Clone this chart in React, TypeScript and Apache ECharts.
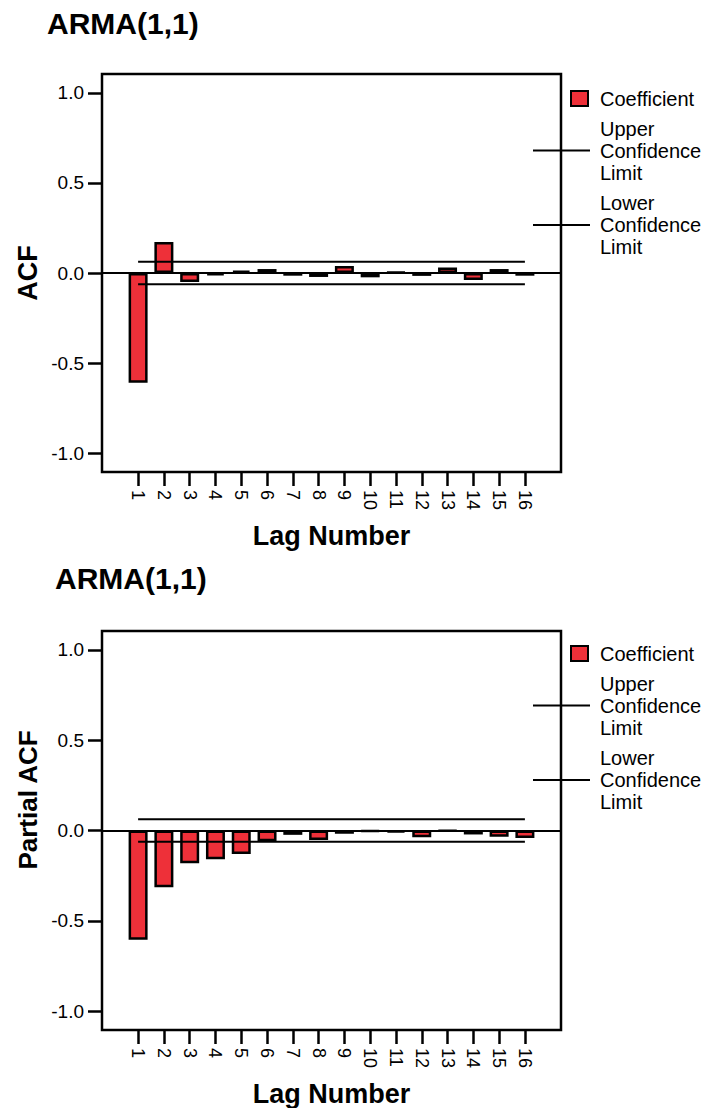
import React, { useEffect, useRef } from "react";
import * as echarts from "echarts";

// Lag numbers on the horizontal axis
const lags = [1, 2, 3, 4, 5, 6, 7, 8, 9, 10, 11, 12, 13, 14, 15, 16];

// Autocorrelation coefficients of the ARMA(1,1) residuals
const acfValues = [
  -0.61, 0.172, -0.05, -0.013, 0.013, 0.022, -0.015, -0.022,
  0.039, -0.024, 0.005, -0.016, 0.031, -0.039, 0.022, -0.015,
];

// Partial autocorrelation coefficients
const pacfValues = [
  -0.605, -0.315, -0.181, -0.159, -0.13, -0.059, -0.024, -0.053,
  -0.018, -0.005, -0.01, -0.037, -0.003, -0.022, -0.035, -0.042,
];

// Confidence limits (+/-)
const upperLimit = 0.062;
const lowerLimit = -0.062;

const yTickValues = [-1, -0.5, 0, 0.5, 1];
const chartTitles = ["ARMA(1,1)", "ARMA(1,1)"];
const yAxisNames = ["ACF", "Partial ACF"];
const xAxisName = "Lag Number";
const legendNames = ["Coefficient", "Upper\nConfidence\nLimit", "Lower\nConfidence\nLimit"];

const FONT = "'Liberation Sans', Arial, Helvetica, sans-serif";
const BAR_RED = "#EE3039";

const grids = [
  { left: 102, top: 74, width: 459, height: 398 },
  { left: 102, top: 631, width: 459, height: 399 },
];
const titlePos = [
  { x: 47, y: 23 },
  { x: 55, y: 578 },
];
const yNamePos = [
  { x: 28, y: 273, size: 27 },
  { x: 28, y: 800, size: 26 },
];
const legendOffsets = [0, 555];

function buildOption() {
  const seriesValues = [acfValues, pacfValues];

  const xAxes = grids.map((_, i) => ({
    type: "value",
    gridIndex: i,
    min: -0.4,
    max: 17.4,
    name: xAxisName,
    nameLocation: "middle",
    nameGap: 50,
    nameTextStyle: { fontFamily: FONT, fontSize: 27, fontWeight: "bold", color: "#000" },
    axisLine: { show: false, onZero: false },
    splitLine: { show: false },
    axisTick: {
      show: true,
      customValues: lags,
      length: 14,
      lineStyle: { color: "#000", width: 2.5 },
    },
    axisLabel: {
      customValues: lags,
      rotate: -90,
      margin: 18,
      fontFamily: FONT,
      fontSize: 18,
      color: "#000",
      formatter: (v: number) => String(v),
    },
  }));

  const yAxes = grids.map((_, i) => ({
    type: "value",
    gridIndex: i,
    min: -1.105,
    max: 1.105,
    axisLine: { show: false, onZero: false },
    splitLine: { show: false },
    axisTick: {
      show: true,
      customValues: yTickValues,
      length: 14,
      lineStyle: { color: "#000", width: 2.5 },
    },
    axisLabel: {
      customValues: yTickValues,
      margin: 18,
      fontFamily: FONT,
      fontSize: 19,
      color: "#000",
      formatter: (v: number) => v.toFixed(1),
    },
  }));

  const series: any[] = [];
  seriesValues.forEach((vals, i) => {
    series.push({
      name: "Coefficient",
      type: "bar",
      xAxisIndex: i,
      yAxisIndex: i,
      barWidth: 19,
      z: 2,
      itemStyle: { color: BAR_RED, borderColor: "#000", borderWidth: 2.5 },
      data: lags.map((lag, k) => [lag, vals[k]]),
    });
    series.push({
      name: "Upper Confidence Limit",
      type: "line",
      xAxisIndex: i,
      yAxisIndex: i,
      z: 3,
      symbol: "none",
      lineStyle: { color: "#000", width: 2 },
      data: [
        [lags[0], upperLimit],
        [lags[lags.length - 1], upperLimit],
      ],
      markLine: {
        silent: true,
        symbol: ["none", "none"],
        label: { show: false },
        lineStyle: { color: "#000", width: 2, type: "solid" },
        data: [{ yAxis: 0 }],
      },
    });
    series.push({
      name: "Lower Confidence Limit",
      type: "line",
      xAxisIndex: i,
      yAxisIndex: i,
      z: 3,
      symbol: "none",
      lineStyle: { color: "#000", width: 2 },
      data: [
        [lags[0], lowerLimit],
        [lags[lags.length - 1], lowerLimit],
      ],
    });
  });

  const graphics: any[] = [];

  chartTitles.forEach((t, i) => {
    graphics.push({
      type: "text",
      x: titlePos[i].x,
      y: titlePos[i].y,
      style: {
        text: t,
        fontFamily: FONT,
        fontSize: 30,
        fontWeight: "bold",
        fill: "#000",
        verticalAlign: "middle",
      },
    });
  });
  yAxisNames.forEach((t, i) => {
    graphics.push({
      type: "text",
      x: yNamePos[i].x,
      y: yNamePos[i].y,
      rotation: Math.PI / 2,
      style: {
        text: t,
        fontFamily: FONT,
        fontSize: yNamePos[i].size,
        fontWeight: "bold",
        fill: "#000",
        align: "center",
        verticalAlign: "middle",
      },
    });
  });
  legendOffsets.forEach((dy) => {
    graphics.push({
      type: "rect",
      shape: { x: 571, y: 91 + dy, width: 17, height: 15 },
      style: { fill: BAR_RED, stroke: "#000", lineWidth: 2 },
      z: 10,
    });
    graphics.push({
      type: "text",
      x: 600,
      y: 98.5 + dy,
      style: { text: legendNames[0], fontFamily: FONT, fontSize: 20, fill: "#000", verticalAlign: "middle" },
      z: 10,
    });
    [
      { y: 150.5, label: legendNames[1] },
      { y: 225, label: legendNames[2] },
    ].forEach((item) => {
      graphics.push({
        type: "line",
        shape: { x1: 533, y1: item.y + dy, x2: 590, y2: item.y + dy },
        style: { stroke: "#000", lineWidth: 2 },
        z: 10,
      });
      graphics.push({
        type: "text",
        x: 600,
        y: item.y + dy,
        style: {
          text: item.label,
          fontFamily: FONT,
          fontSize: 20,
          lineHeight: 22,
          fill: "#000",
          verticalAlign: "middle",
        },
        z: 10,
      });
    });
  });

  return {
    animation: false,
    backgroundColor: "#fff",
    textStyle: { fontFamily: FONT },
    grid: grids.map((g) => ({
      ...g,
      show: true,
      borderColor: "#000",
      borderWidth: 2.5,
      backgroundColor: "transparent",
    })),
    xAxis: xAxes,
    yAxis: yAxes,
    series,
    graphic: graphics,
  };
}

export default function App() {
  const ref = useRef<HTMLDivElement>(null);

  useEffect(() => {
    document.body.style.margin = "0";
    if (!ref.current) return;
    const chart = echarts.init(ref.current, undefined, { renderer: "svg" });
    chart.setOption(buildOption() as any);
    return () => chart.dispose();
  }, []);

  return <div ref={ref} style={{ width: 705, height: 1108 }} />;
}
